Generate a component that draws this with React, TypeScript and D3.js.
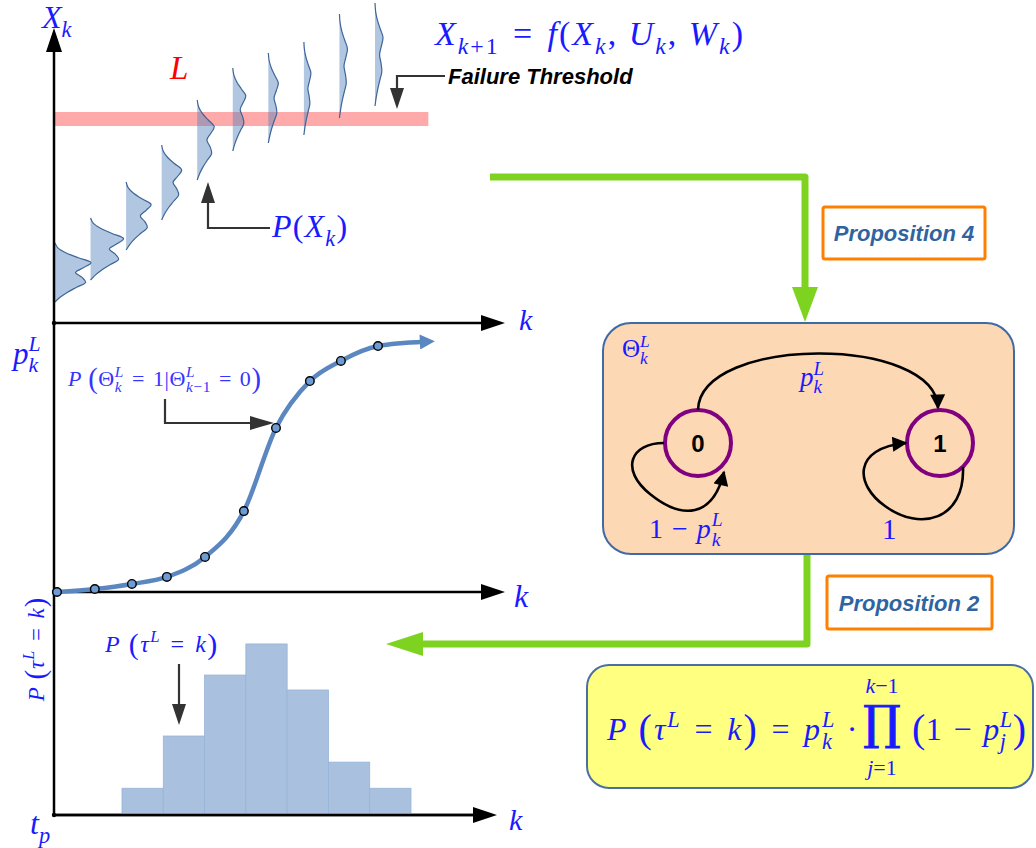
import React from "react";
import * as d3 from "d3";

const W = 1036;
const H = 848;

// ---- Top panel: predicted state densities P(X_k) at each step ----
const distStep = [1, 2, 3, 4, 5, 6, 7, 8, 9, 10];
const distLow = [21, 43, 73, 103, 143, 172, 180, 188, 205, 217];
const distHigh = [80, 105, 141, 178, 223, 255, 270, 281, 309, 320];
const distPeak = [36, 33, 25, 20, 17, 13, 10, 7, 8, 8];
// bimodal density profile sampled from the top of the support to the bottom
const densityProfile = [0, 0.08, 0.3, 0.65, 1.0, 0.8, 0.57, 0.75, 0.85, 0.6, 0.35, 0.15, 0];
const thresholdLevel = 204;
const thresholdEnd = 11.5;

// ---- Middle panel: p_k^L = P(Theta_k = 1 | Theta_{k-1} = 0) ----
const hazardStep = [0, 1.06, 2.1, 3.08, 4.15, 5.24, 6.14, 7.09, 7.96, 9];
const hazardProb = [0, 0.012, 0.032, 0.06, 0.139, 0.321, 0.651, 0.837, 0.917, 0.976];
const hazardTail = { step: 10.3, prob: 0.993 };

// ---- Bottom panel: failure time distribution P(tau^L = k) ----
const failStep = ["3", "4", "5", "6", "7", "8", "9"];
const failProb = [0.043, 0.127, 0.225, 0.275, 0.201, 0.085, 0.043];

const BLUE = "#1a1aff";
const SERIF = "'Liberation Serif', 'DejaVu Serif', serif";
const SANS = "'Liberation Sans', Arial, sans-serif";
const GREEN = "#7ed321";
const PROP_BLUE = "#2f64a0";
const SP = "\u2004"; // three-per-em space around relations

// scales
const xTop = d3.scaleLinear().domain([1, 10]).range([55, 375]);
const yTop = d3.scaleLinear().domain([0, 300]).range([323, 23]);
const xDen = d3.scaleLinear().domain([0, 40]).range([0, 40]);
const xMid = d3.scaleLinear().domain([0, 9]).range([57, 378]);
const yMid = d3.scaleLinear().domain([0, 1]).range([592, 340]);
const xBot = d3.scaleBand<string>().domain(failStep).range([122, 411]).padding(0);
const yBot = d3.scaleLinear().domain([0, 1]).range([815, 193]);

// ---- tiny math typesetting helpers ----
type Tok = { t: string; sup?: string; sub?: string; big?: number };

const italicChar = (c: string) => /[A-Za-zα-ω]/.test(c);
function runs(s: string) {
  const out: { t: string; it: boolean }[] = [];
  for (const c of s) {
    const it = italicChar(c);
    if (out.length && out[out.length - 1].it === it) out[out.length - 1].t += c;
    else out.push({ t: c, it });
  }
  return out;
}
function styled(s: string) {
  return runs(s).map((r, i) => (
    <tspan key={i} fontStyle={r.it ? "italic" : "normal"}>
      {r.t}
    </tspan>
  ));
}
// approximate advance widths (em) of the serif face for script glyphs
const glyphW: Record<string, number> = { L: 0.56, k: 0.44, j: 0.28, p: 0.5, "−": 0.56, "1": 0.5, "+": 0.56 };
const estW = (s: string, fs: number, ls: number) =>
  [...s].reduce((a, c) => a + (glyphW[c] ?? 0.5) * fs + ls, 0);

function MathText(props: {
  x: number;
  y: number;
  size: number;
  toks: Tok[];
  fill?: string;
  anchor?: string;
  transform?: string;
  ls?: number;
}) {
  const { x, y, size, toks, fill = BLUE, anchor = "start", transform, ls = 0 } = props;
  const parts: React.ReactNode[] = [];
  let shift = 0;
  let pendingDx = 0;
  const ss = size * 0.7;
  toks.forEach((tk, i) => {
    const big = tk.big ?? 1;
    const dyBig = 0.25 * size * (big - 1);
    parts.push(
      <tspan key={`m${i}`} dx={pendingDx || undefined} dy={dyBig - shift} fontSize={size * big}>
        {styled(tk.t)}
      </tspan>
    );
    shift = dyBig;
    pendingDx = 0;
    if (tk.sup) {
      const d = -0.42 * size;
      parts.push(
        <tspan key={`p${i}`} dy={d - shift} fontSize={ss}>
          {styled(tk.sup)}
        </tspan>
      );
      shift = d;
    }
    if (tk.sub) {
      const d = 0.27 * size;
      const wSup = tk.sup ? estW(tk.sup, ss, ls) : 0;
      parts.push(
        <tspan key={`b${i}`} dx={tk.sup ? -wSup : undefined} dy={d - shift} fontSize={ss}>
          {styled(tk.sub)}
        </tspan>
      );
      shift = d;
      if (tk.sup) pendingDx = Math.max(0, wSup - estW(tk.sub, ss, ls));
    }
  });
  return (
    <text
      x={x}
      y={y}
      fontFamily={SERIF}
      fontSize={size}
      fill={fill}
      textAnchor={anchor}
      transform={transform}
      letterSpacing={ls || undefined}
      style={{ whiteSpace: "pre" }}
    >
      {parts}
    </text>
  );
}

function Arrow({ d, color = "#000", w = 2.5 }: { d: string; color?: string; w?: number }) {
  return <path d={d} fill="none" stroke={color} strokeWidth={w} />;
}

export default function App() {
  // density shapes
  const densities = distStep.map((k, i) => {
    const x0 = xTop(k);
    const n = densityProfile.length - 1;
    const pts = densityProfile.map((v, j) => ({
      y: yTop(distHigh[i] - ((distHigh[i] - distLow[i]) * j) / n),
      x: x0 + xDen(v * distPeak[i]),
    }));
    const area = d3
      .area<{ x: number; y: number }>()
      .y((p) => p.y)
      .x0(x0)
      .x1((p) => p.x)
      .curve(d3.curveCatmullRom)(pts);
    const line = d3
      .line<{ x: number; y: number }>()
      .x((p) => p.x)
      .y((p) => p.y)
      .curve(d3.curveCatmullRom)(pts);
    return { area, line, k };
  });

  const hazardPts = hazardStep.map((s, i) => ({ s, p: hazardProb[i] }));
  const hazardLine = d3
    .line<{ s: number; p: number }>()
    .x((d) => xMid(d.s))
    .y((d) => yMid(d.p))
    .curve(d3.curveMonotoneX)([...hazardPts, { s: hazardTail.step, p: hazardTail.prob }]);

  const yL = yTop(thresholdLevel);
  const axisX = 54;
  const eq = `${SP}=${SP}`;

  return (
    <svg
      width={W}
      height={H}
      viewBox={`0 0 ${W} ${H}`}
      style={{ position: "absolute", left: 0, top: 0, background: "#fff" }}
    >
      <defs>
        <marker id="headBlack" viewBox="0 0 10 10" refX="9" refY="5" markerWidth="17" markerHeight="15" markerUnits="userSpaceOnUse" orient="auto">
          <path d="M0,0 L10,5 L0,10 Z" fill="#000" />
        </marker>
        <marker id="headCurve" viewBox="0 0 10 10" refX="3" refY="5" markerWidth="20" markerHeight="15" markerUnits="userSpaceOnUse" orient="auto">
          <path d="M0,0 L10,5 L0,10 Z" fill="#5b87c0" />
        </marker>
      </defs>

      {/* ===== top panel ===== */}
      <rect x={axisX} y={yL - 7} width={xTop(thresholdEnd) - axisX} height={14} fill="#ffaaaa" />
      {densities.map((d) => (
        <g key={d.k}>
          <path d={d.area || ""} fill="rgba(79,129,189,0.45)" stroke="none" />
          <path d={d.line || ""} fill="none" stroke="#3d6597" strokeWidth={1.2} />
        </g>
      ))}

      {/* axes */}
      <line x1={axisX} y1={50} x2={axisX} y2={815} stroke="#000" strokeWidth={2.5} />
      <path d={`M${axisX - 8},52 L${axisX + 8},52 L${axisX},28 Z`} fill="#000" />
      {[323, 592, 815].map((y, i) => {
        const tip = i === 2 ? 497 : 505;
        return (
          <g key={y}>
            <line x1={axisX} y1={y} x2={tip - 20} y2={y} stroke="#000" strokeWidth={2.5} />
            <path d={`M${tip - 24},${y - 8} L${tip - 24},${y + 8} L${tip},${y} Z`} fill="#000" />
            <circle cx={axisX} cy={y} r={2.2} fill="#000" />
          </g>
        );
      })}

      <MathText x={42} y={28} size={32} toks={[{ t: "X", sub: "k" }]} />
      <text x={170} y={79} fontFamily={SERIF} fontStyle="italic" fontSize={33} fill="#ff0000">
        L
      </text>
      <MathText
        x={435}
        y={45}
        size={34}
        ls={2}
        toks={[
          { t: "X", sub: "k+1" },
          { t: `${eq}f(X`, sub: "k" },
          { t: ", U", sub: "k" },
          { t: ", W", sub: "k" },
          { t: ")" },
        ]}
      />

      {/* failure threshold callout */}
      <Arrow d={`M445,76 H397 V90`} color="#333" w={2.2} />
      <path d="M390,88 L404,88 L397,109 Z" fill="#333" />
      <text x={448} y={84} fontFamily={SANS} fontWeight="bold" fontStyle="italic" fontSize={22} fill="#000">
        Failure Threshold
      </text>

      {/* P(X_k) callout */}
      <Arrow d={`M270,228 H208 V200`} color="#333" w={2.2} />
      <path d="M201,203 L215,203 L208,182 Z" fill="#333" />
      <MathText x={272} y={237} size={32} ls={1.2} toks={[{ t: "P(X", sub: "k" }, { t: ")" }]} />
      <MathText x={519} y={330} size={30} toks={[{ t: "k" }]} />

      {/* ===== middle panel ===== */}
      <MathText x={13} y={364} size={31} toks={[{ t: "p", sup: "L", sub: "k" }]} />
      <path d={hazardLine || ""} fill="none" stroke="#5b87c0" strokeWidth={4.5} markerEnd="url(#headCurve)" />
      {hazardPts.map((d, i) => (
        <circle key={i} cx={xMid(d.s)} cy={yMid(d.p)} r={4.3} fill="#6d9bd3" stroke="#000" strokeWidth={1.4} />
      ))}
      <MathText
        x={68}
        y={386}
        size={22}
        ls={0.6}
        fill="#3535ff"
        toks={[
          { t: "P " },
          { t: "(", big: 1.3 },
          { t: "Θ", sup: "L", sub: "k" },
          { t: `${eq}1|Θ`, sup: "L", sub: "k−1" },
          { t: `${eq}0` },
          { t: ")", big: 1.3 },
        ]}
      />
      <Arrow d={`M165,399 V423 H252`} color="#333" w={2.2} />
      <path d="M250,416 L250,430 L274,423 Z" fill="#333" />
      <MathText x={514} y={607} size={32} toks={[{ t: "k" }]} />

      {/* ===== bottom panel ===== */}
      {failStep.map((k, i) => (
        <rect
          key={k}
          x={xBot(k)}
          y={yBot(failProb[i])}
          width={xBot.bandwidth()}
          height={yBot(0) - yBot(failProb[i])}
          fill="#a9c1de"
          stroke="#97b3d8"
          strokeWidth={0.8}
        />
      ))}
      <line x1={axisX} y1={815} x2={477} y2={815} stroke="#000" strokeWidth={2.5} />
      <MathText
        x={105}
        y={652}
        size={24}
        ls={1.5}
        toks={[{ t: "P " }, { t: "(", big: 1.25 }, { t: "τ", sup: "L" }, { t: `${eq}k` }, { t: ")", big: 1.25 }]}
      />
      <Arrow d={`M179,664 V706`} color="#333" w={2.2} />
      <path d="M172,704 L186,704 L179,725 Z" fill="#333" />
      <MathText
        x={44}
        y={649}
        size={23}
        ls={1}
        anchor="middle"
        transform="rotate(-90 44 649)"
        toks={[{ t: "P " }, { t: "(", big: 1.25 }, { t: "τ", sup: "L" }, { t: `${eq}k` }, { t: ")", big: 1.25 }]}
      />
      <MathText x={30} y={834} size={32} toks={[{ t: "t", sub: "p" }]} />
      <MathText x={509} y={830} size={30} toks={[{ t: "k" }]} />

      {/* ===== right side: Markov chain and propositions ===== */}
      <path d="M490,177 H805 V290" fill="none" stroke={GREEN} strokeWidth={7} strokeLinejoin="round" />
      <path d="M792,287 L818,287 L805,322 Z" fill={GREEN} />
      <rect x={823} y={207} width={162} height={52} fill="#fff" stroke="#ff8000" strokeWidth={3} rx={2} />
      <text x={904} y={241} textAnchor="middle" fontFamily={SANS} fontWeight="bold" fontStyle="italic" fontSize={22} fill={PROP_BLUE}>
        Proposition 4
      </text>

      <rect x={603} y={323} width={411} height={231} rx={28} fill="#fdd8b4" stroke="#3e6aa8" strokeWidth={2} />
      <MathText x={622} y={357} size={25} toks={[{ t: "Θ", sup: "L", sub: "k" }]} />

      <circle cx={698} cy={443} r={33} fill="none" stroke="#800080" strokeWidth={4} />
      <circle cx={940} cy={443} r={33} fill="none" stroke="#800080" strokeWidth={4} />
      <text x={698} y={452} textAnchor="middle" fontFamily={SANS} fontWeight="bold" fontSize={24} fill="#000">
        0
      </text>
      <text x={940} y={452} textAnchor="middle" fontFamily={SANS} fontWeight="bold" fontSize={24} fill="#000">
        1
      </text>
      <path d="M698,410 C700,335 936,335 938,408" fill="none" stroke="#000" strokeWidth={2.6} markerEnd="url(#headBlack)" />
      <path d="M664,443 C630,443 620,470 650,494 C682,520 713,518 724,472" fill="none" stroke="#000" strokeWidth={2.6} markerEnd="url(#headBlack)" />
      <path d="M963,467 C965,520 920,532 885,506 C855,485 852,448 906,443" fill="none" stroke="#000" strokeWidth={2.6} markerEnd="url(#headBlack)" />
      <MathText x={800} y={386} size={27} toks={[{ t: "p", sup: "L", sub: "k" }]} />
      <MathText x={649} y={538} size={28} ls={1} toks={[{ t: "1 − p", sup: "L", sub: "k" }]} />
      <MathText x={882} y={539} size={29} toks={[{ t: "1" }]} />

      <path d="M807,555 V644 H420" fill="none" stroke={GREEN} strokeWidth={7} strokeLinejoin="round" />
      <path d="M423,632 L423,656 L386,644 Z" fill={GREEN} />
      <rect x={827} y={576} width={165} height={53} fill="#fff" stroke="#ff8000" strokeWidth={3} rx={2} />
      <text x={909} y={611} textAnchor="middle" fontFamily={SANS} fontWeight="bold" fontStyle="italic" fontSize={22} fill={PROP_BLUE}>
        Proposition 2
      </text>

      <rect x={587} y={665} width={446} height={123} rx={22} fill="#ffff80" stroke="#4a6fa5" strokeWidth={2} />
      <MathText
        x={607}
        y={740}
        size={32}
        ls={2}
        toks={[
          { t: "P " },
          { t: "(", big: 1.25 },
          { t: "τ", sup: "L" },
          { t: `${eq}k` },
          { t: ")", big: 1.25 },
          { t: `${eq}p`, sup: "L", sub: "k" },
          { t: " ·" },
        ]}
      />
      <text
        x={882}
        y={739}
        textAnchor="middle"
        fontFamily="'DejaVu Serif', serif"
        fontSize={47}
        fill={BLUE}
        stroke={BLUE}
        strokeWidth={1.2}
      >
        ∏
      </text>
      <MathText x={882} y={693} size={22} anchor="middle" toks={[{ t: "k−1" }]} />
      <MathText x={882} y={775} size={22} anchor="middle" toks={[{ t: "j=1" }]} />
      <MathText
        x={912}
        y={740}
        size={32}
        ls={0.5}
        toks={[{ t: "(", big: 1.25 }, { t: `1${SP}−${SP}p`, sup: "L", sub: "j" }, { t: ")", big: 1.25 }]}
      />
    </svg>
  );
}
